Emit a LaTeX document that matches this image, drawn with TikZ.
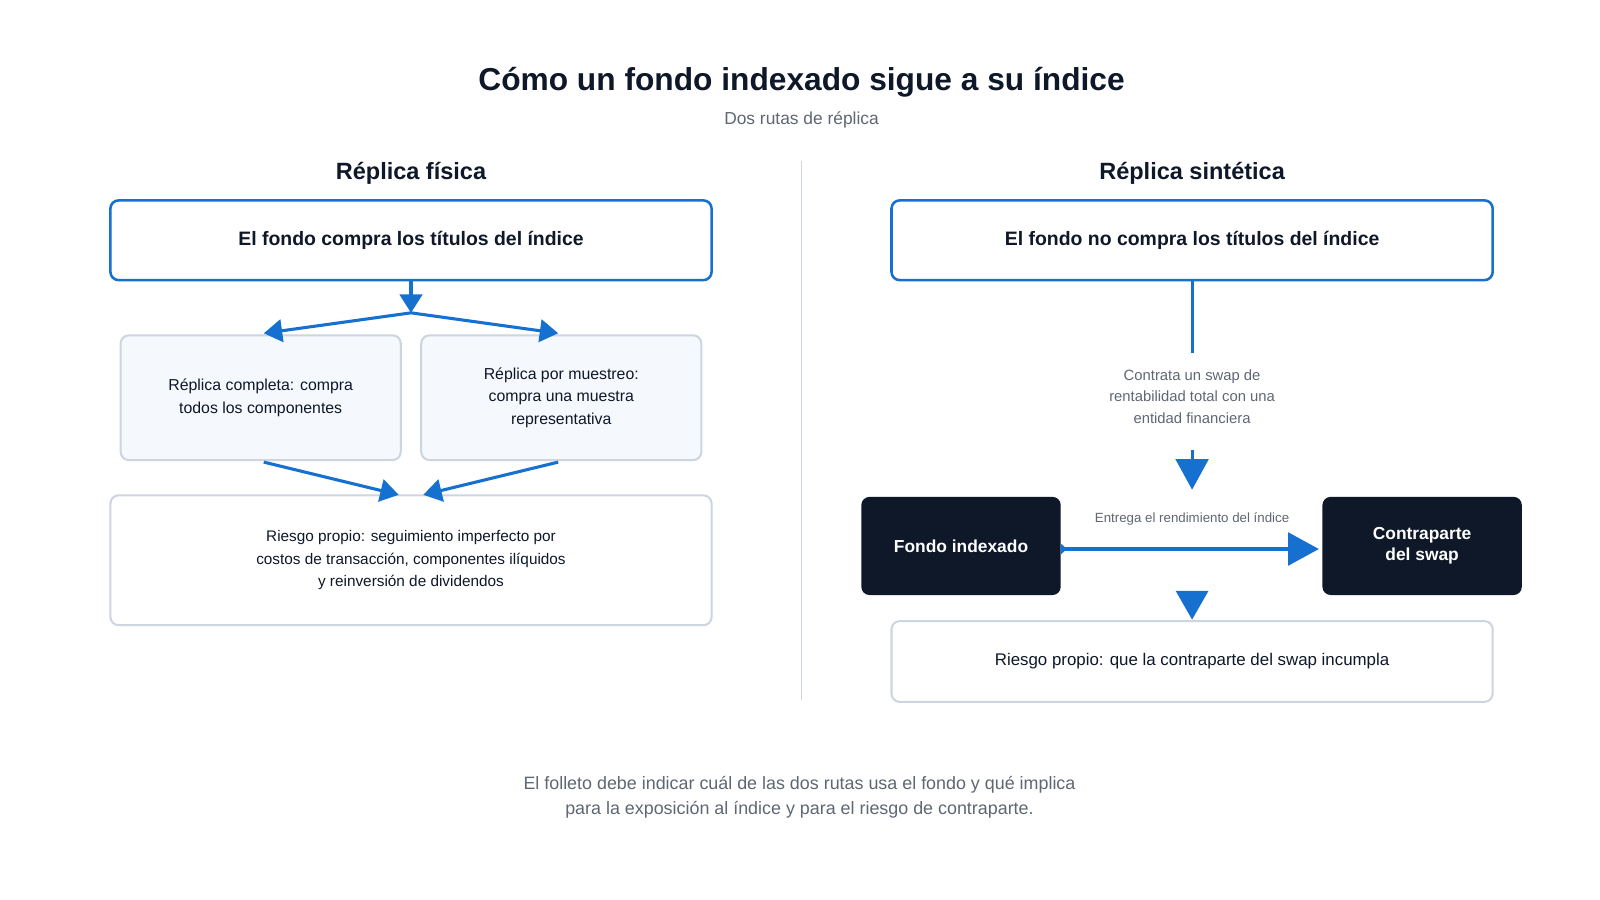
\documentclass[tikz,border=0pt]{standalone}
\usepackage{fontspec}
\setmainfont{Liberation Sans}
\usetikzlibrary{arrows.meta}
\definecolor{blu}{HTML}{1670D0}
\definecolor{dark}{HTML}{0E1829}
\definecolor{gbord}{HTML}{CDD5E0}
\definecolor{lfill}{HTML}{F5F8FC}
\definecolor{gtxt}{HTML}{5F6773}
\begin{document}
\begin{tikzpicture}[x=1pt,y=-1pt,
  topbox/.style={draw=blu,line width=2.5pt,rounded corners=8pt,fill=white,font=\bfseries\fontsize{19}{23}\selectfont,text=dark},
  subbox/.style={draw=gbord,line width=2pt,rounded corners=8pt,fill=lfill,align=center,font=\fontsize{15.5}{22}\selectfont,text=dark},
  riskbox/.style={draw=gbord,line width=2pt,rounded corners=8pt,fill=white,align=center,font=\fontsize{15}{22}\selectfont,text=dark},
  darkbox/.style={fill=dark,rounded corners=8pt,align=center,text=white,font=\bfseries\fontsize{17}{21}\selectfont},
  arr/.style={blu,line width=3pt,-{Triangle[width=22pt,length=18pt]}},
  ln/.style={blu,line width=3pt},
  hdr/.style={font=\bfseries\fontsize{23}{27}\selectfont,text=dark}]
\useasboundingbox (0,0) rectangle (1565,880);
\fill[white] (0,0) rectangle (1565,880);
\node[font=\bfseries\fontsize{31}{36}\selectfont,text=dark] (title) at (784,80) {Cómo un fondo indexado sigue a su índice};
\node[font=\fontsize{17}{20}\selectfont,text=gtxt] (sub) at (784,117) {Dos rutas de réplica};
\draw[gbord,line width=1pt] (784,157) coordinate (d1) -- (784,685) coordinate (d2);
\node[hdr] (hl) at (402,170) {Réplica física};
\node[hdr] (hr) at (1166,170) {Réplica sintética};
% left
\node[topbox,minimum width=588pt,minimum height=78pt] (lt) at (402,235) {El fondo compra los títulos del índice};
\node[subbox,minimum width=274pt,minimum height=122pt] (la) at (255,389) {Réplica completa: compra\\todos los componentes};
\node[subbox,minimum width=274pt,minimum height=122pt] (lb) at (549,389) {Réplica por muestreo:\\compra una muestra\\representativa};
\node[riskbox,minimum width=588pt,minimum height=127pt] (lr) at (402,548) {Riesgo propio: seguimiento imperfecto por\\costos de transacción, componentes ilíquidos\\y reinversión de dividendos};
\coordinate (fork) at (402,306);
\draw[arr] (lt.south) -- (fork);
\draw[arr] (fork) -- (258,326) coordinate (ta);
\draw[arr] (fork) -- (546,326) coordinate (tb);
\draw[arr] (258,452) coordinate (sa) -- (390,484) coordinate (ea);
\draw[arr] (546,452) coordinate (sb) -- (414,484) coordinate (eb);
% right
\node[topbox,minimum width=588pt,minimum height=78pt] (rt) at (1166,235) {El fondo no compra los títulos del índice};
\coordinate (r1) at (1166,345);
\draw[ln] (rt.south) -- (r1);
\node[align=center,font=\fontsize{14.5}{21}\selectfont,text=gtxt] (rl) at (1166,388) {Contrata un swap de\\rentabilidad total con una\\entidad financiera};
\coordinate (r2) at (1166,440); \coordinate (r3) at (1166,479);
\draw[blu,line width=3pt,-{Triangle[width=32pt,length=30pt]}] (r2) -- (r3);
\node[darkbox,minimum width=195pt,minimum height=96pt] (fi) at (940,534) {Fondo indexado};
\node[darkbox,minimum width=195pt,minimum height=96pt] (cs) at (1391,534) {Contraparte\\del swap};
\draw[blu,line width=3pt,{Triangle[reversed,width=10pt,length=6pt]}-{Triangle[width=32pt,length=30pt]}] (fi.east |- 0,537) -- (1290,537) coordinate (ce);
\node[font=\fontsize{13}{16}\selectfont,text=gtxt] (el) at (1166,508) {Entrega el rendimiento del índice};
\node[riskbox,minimum width=588pt,minimum height=79pt] (rr) at (1166,647) {\fontsize{16.5}{20}\selectfont Riesgo propio: que la contraparte del swap incumpla};
\coordinate (r4) at (1166,588);
\fill[blu] (1150,578) -- (1182,578) -- (1166,606) -- cycle;
\node[align=center,font=\fontsize{17.5}{24}\selectfont,text=gtxt] (ft) at (782,780) {El folleto debe indicar cuál de las dos rutas usa el fondo y qué implica\\para la exposición al índice y para el riesgo de contraparte.};
\end{tikzpicture}
\end{document}
